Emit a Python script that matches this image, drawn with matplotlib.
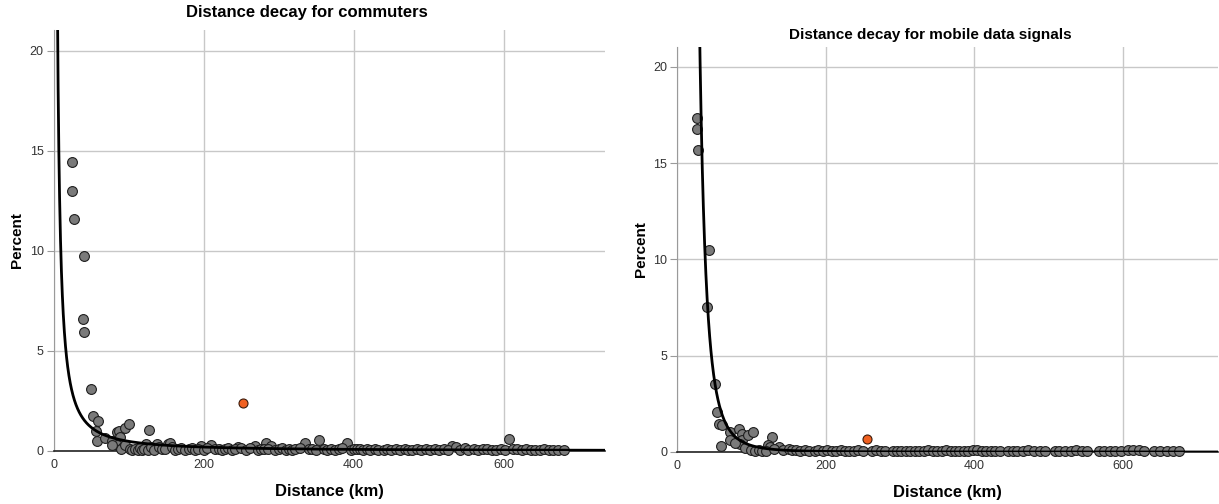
import matplotlib
matplotlib.use("Agg")
import matplotlib.pyplot as plt
import numpy as np

plt.rcParams['font.family'] = ['Liberation Sans', 'DejaVu Sans']

# ---------------- data: commuters ----------------
comm_x = [25, 25, 27, 41, 39, 40, 50, 52, 59, 57, 58, 69, 78, 84, 87, 89, 95, 100, 127,
          85, 92, 90, 95, 78, 123, 138, 152, 155, 197, 210, 246, 268, 283, 290, 335,
          354, 391, 531, 607,
          102, 105, 108, 112, 115, 118, 121, 126, 130, 134,
          141, 145, 148, 158, 162, 166, 170, 175, 180, 184,
          188, 192, 201, 205, 215, 220, 224, 228, 233, 238,
          242, 250, 257, 262, 272, 276, 280, 286, 295, 300,
          305, 310, 314, 318, 322, 328, 340, 345, 350, 360,
          365, 370, 375, 380, 385, 396, 400, 404, 408, 412,
          418, 422, 428, 433, 440, 445, 450, 456, 462, 468,
          472, 478, 485, 490, 496, 502, 508, 514, 520, 526,
          537, 542, 548, 553, 560, 566, 572, 578, 584, 590,
          596, 602, 612, 618, 624, 630, 636, 642, 648, 654,
          660, 666, 672, 680]
comm_y = [14.45, 13.0, 11.6, 9.75, 6.6, 5.95, 3.1, 1.75, 1.5, 1.0, 0.5, 0.65, 0.5, 0.95, 1.0, 0.72, 1.15, 1.35, 1.03,
          0.3, 0.2, 0.1, 0.3, 0.3, 0.35, 0.35, 0.35, 0.38, 0.25, 0.3, 0.22, 0.25, 0.4, 0.25, 0.4,
          0.55, 0.4, 0.25, 0.6,
          0.08, 0.05, 0.12, 0.06, 0.15, 0.04, 0.10, 0.07, 0.18, 0.05,
          0.22, 0.12, 0.08, 0.20, 0.06, 0.10, 0.14, 0.05, 0.09, 0.13,
          0.07, 0.11, 0.05, 0.16, 0.08, 0.12, 0.06, 0.10, 0.14, 0.05,
          0.09, 0.13, 0.07, 0.15, 0.06, 0.11, 0.08, 0.12, 0.05, 0.10,
          0.14, 0.07, 0.11, 0.06, 0.09, 0.13, 0.08, 0.12, 0.05, 0.10,
          0.07, 0.11, 0.06, 0.09, 0.13, 0.05, 0.10, 0.08, 0.12, 0.06,
          0.09, 0.05, 0.11, 0.07, 0.04, 0.10, 0.06, 0.08, 0.05, 0.12,
          0.07, 0.05, 0.09, 0.06, 0.11, 0.04, 0.08, 0.05, 0.10, 0.06,
          0.18, 0.07, 0.14, 0.05, 0.09, 0.06, 0.08, 0.11, 0.05, 0.07,
          0.10, 0.06, 0.12, 0.08, 0.05, 0.09, 0.06, 0.07, 0.05, 0.08,
          0.06, 0.05, 0.07, 0.04]
comm_highlight_x = [253]
comm_highlight_y = [2.4]
comm_fit_a, comm_fit_b = 192.0, 1.3   # power fit y = a * x^-b

# ---------------- data: mobile data signals ----------------
mob_x = [26.5, 26.5, 28.7, 43, 40, 51, 53.5, 57, 60, 59, 71, 71, 83.5, 87, 88, 95, 102,
         85, 92, 100, 78, 127.5, 123, 125, 137,
         105, 110, 115, 120, 130, 142, 150, 155, 160, 165,
         172, 178, 185, 190, 196, 202, 208, 214, 220, 226,
         232, 238, 244, 250, 262, 268, 274, 280, 290, 296,
         302, 308, 314, 320, 326, 332, 338, 344, 350, 356,
         362, 368, 374, 380, 386, 392, 398, 404, 410, 416,
         422, 428, 434, 445, 452, 458, 465, 472, 480, 488,
         495, 508, 514, 522, 530, 537, 545, 552, 568, 575,
         582, 590, 598, 607, 614, 622, 628, 642, 650, 660,
         668, 675]
mob_y = [17.35, 16.8, 15.7, 10.5, 7.55, 3.55, 2.1, 1.45, 1.38, 0.33, 1.05, 0.62, 1.17, 0.95, 0.6, 0.88, 1.05,
         0.4, 0.2, 0.1, 0.45, 0.8, 0.36, 0.25, 0.28,
         0.05, 0.08, 0.04, 0.06, 0.15, 0.12, 0.18, 0.10, 0.12, 0.06,
         0.08, 0.05, 0.07, 0.10, 0.06, 0.09, 0.05, 0.07, 0.08, 0.06,
         0.05, 0.07, 0.09, 0.06, 0.05, 0.08, 0.06, 0.05, 0.07, 0.04,
         0.06, 0.05, 0.07, 0.04, 0.06, 0.05, 0.08, 0.06, 0.05, 0.07,
         0.10, 0.06, 0.05, 0.07, 0.05, 0.06, 0.09, 0.12, 0.06, 0.05,
         0.07, 0.05, 0.06, 0.04, 0.05, 0.07, 0.06, 0.08, 0.05, 0.06,
         0.04, 0.05, 0.07, 0.06, 0.05, 0.08, 0.06, 0.05, 0.04, 0.06,
         0.05, 0.07, 0.06, 0.08, 0.12, 0.10, 0.07, 0.05, 0.06, 0.05,
         0.04, 0.05]
mob_highlight_x = [255]
mob_highlight_y = [0.67]
mob_fit_a, mob_fit_b = 3.37e6, 3.5

y_ticks = [0, 5, 10, 15, 20]
x_ticks = [0, 200, 400, 600]

fig = plt.figure(figsize=(12.19, 5.04), dpi=100)
ax1 = fig.add_axes([0.0439, 0.1052, 0.4524, 0.8353])
ax2 = fig.add_axes([0.5554, 0.1032, 0.4438, 0.8041])

panels = [
    (ax1, comm_x, comm_y, comm_highlight_x, comm_highlight_y, comm_fit_a, comm_fit_b, 735),
    (ax2, mob_x, mob_y, mob_highlight_x, mob_highlight_y, mob_fit_a, mob_fit_b, 728),
]

for ax, xs, ys, hx, hy, a, b, xmax in panels:
    ax.set_xlim(0, xmax)
    ax.set_ylim(0, 21.05)
    ax.set_xticks(x_ticks)
    ax.set_yticks(y_ticks)
    ax.grid(True, color='#c8c8c8', linewidth=1.0, zorder=0)
    ax.set_axisbelow(True)
    for s in ['top', 'right']:
        ax.spines[s].set_visible(False)
    ax.spines['left'].set_color('#9a9a9a')
    ax.spines['bottom'].set_color('#222222')
    ax.spines['bottom'].set_linewidth(1.2)
    ax.tick_params(axis='y', length=5, color='#9a9a9a', labelsize=9, labelcolor='#333333', pad=2)
    ax.tick_params(axis='x', length=0, labelsize=9, labelcolor='#333333', pad=6)
    ax.scatter(xs, ys, s=50, facecolor='#7a7a7a', edgecolor='#1e1e1e', linewidth=0.8,
               zorder=3, clip_on=False)
    ax.scatter(hx, hy, s=42, facecolor='#f06020', edgecolor='#3a1a0a', linewidth=0.8, zorder=4)
    xf = np.linspace(1, xmax, 3000)
    ax.plot(xf, a * xf ** (-b), color='black', linewidth=2.0, zorder=5)
    ax.set_xlabel("Distance (km)", fontsize=12, fontweight='bold', labelpad=9)
    ax.set_ylabel("Percent", fontsize=11, fontweight='bold', labelpad=4)

fig.text(307 / 1219, 1 - 13 / 504, "Distance decay for commuters", ha='center', va='center',
         fontsize=12, fontweight='bold')
fig.text(930 / 1219, 1 - 35 / 504, "Distance decay for mobile data signals", ha='center',
         va='center', fontsize=11, fontweight='bold')

fig.savefig("out.png", dpi=100)
